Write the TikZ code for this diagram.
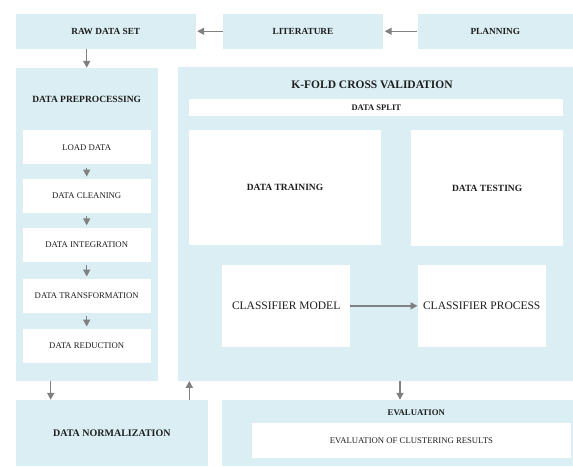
\documentclass[tikz,border=0pt]{standalone}
\usepackage{fontspec}
\setmainfont{Liberation Serif}
\usetikzlibrary{arrows.meta}
\definecolor{lblue}{HTML}{DAEEF3}
\definecolor{agray}{HTML}{808080}
\definecolor{tdark}{HTML}{1E1E1E}
\tikzset{
  bluebox/.style={fill=lblue, draw=none, inner sep=0pt, text=tdark},
  whitebox/.style={fill=white, draw=none, inner sep=0pt, text=tdark},
  title/.style={inner sep=0pt, text=tdark, font=\bfseries\fontsize{#1}{#1}\selectfont},
  arr/.style={draw=agray, line width=1.5pt, -{Triangle[length=7pt,width=7pt]}, fill=agray},
}
\begin{document}
\begin{tikzpicture}[x=1pt,y=-1pt]
\useasboundingbox (0,0) rectangle (573,466);
% top row
\node[bluebox, minimum width=179.5pt, minimum height=34.5pt, font=\bfseries\fontsize{9.3}{10}\selectfont] (raw) at (105.75,31.25) {RAW DATA SET};
\node[bluebox, minimum width=160pt, minimum height=34.5pt, font=\bfseries\fontsize{9.3}{10}\selectfont] (lit) at (303,31.25) {LITERATURE};
\node[bluebox, minimum width=155.4pt, minimum height=34.5pt, font=\bfseries\fontsize{9.3}{10}\selectfont] (plan) at (495.3,31.25) {PLANNING};
% preprocessing
\node[bluebox, minimum width=141.5pt, minimum height=312.5pt] (prepro) at (86.75,224.25) {};
\node[title=9.5] (pretitle) at (86.7,99) {DATA PREPROCESSING};
\tikzset{step box/.style={whitebox, minimum width=128pt, minimum height=34.5pt, font=\fontsize{8.7}{10}\selectfont}}
\node[step box] (load) at (86.7,147.2) {LOAD DATA};
\node[step box] (clean) at (86.7,196) {DATA CLEANING};
\node[step box] (integ) at (86.7,244.8) {DATA INTEGRATION};
\node[step box] (trans) at (86.7,296) {DATA TRANSFORMATION};
\node[step box] (reduc) at (86.7,346) {DATA REDUCTION};
% k-fold
\node[bluebox, minimum width=394.7pt, minimum height=313.4pt] (kfold) at (375.65,224) {};
\node[title=11.5] (kftitle) at (372,85) {K-FOLD CROSS VALIDATION};
\node[whitebox, minimum width=374pt, minimum height=17pt, font=\bfseries\fontsize{8.5}{10}\selectfont] (split) at (376.3,107.5) {DATA SPLIT};
\node[whitebox, minimum width=191.4pt, minimum height=114.5pt, font=\bfseries\fontsize{9.5}{10}\selectfont] (train) at (285,187.5) {DATA TRAINING};
\node[whitebox, minimum width=152.3pt, minimum height=116pt, font=\bfseries\fontsize{9.5}{10}\selectfont] (test) at (487.15,188) {DATA TESTING};
\node[whitebox, minimum width=127.7pt, minimum height=81.7pt, font=\fontsize{11.5}{12}\selectfont] (cmodel) at (286.15,305.85) {CLASSIFIER MODEL};
\node[whitebox, minimum width=128pt, minimum height=81.7pt, font=\fontsize{11.5}{12}\selectfont] (cproc) at (481.7,305.85) {CLASSIFIER PROCESS};
% bottom row
\node[bluebox, minimum width=191.7pt, minimum height=66pt, font=\bfseries\fontsize{10}{11}\selectfont] (norm) at (111.85,433) {DATA NORMALIZATION};
\node[bluebox, minimum width=351.3pt, minimum height=66pt] (eval) at (397.35,433) {};
\node[title=8.7] (evtitle) at (416.3,413) {EVALUATION};
\node[whitebox, minimum width=319.3pt, minimum height=35pt, font=\fontsize{8.7}{10}\selectfont] (evres) at (411.35,440.8) {EVALUATION OF CLUSTERING RESULTS};
% helper x positions
\coordinate (xa) at (86.7,0);
\coordinate (xb) at (50.7,0);
\coordinate (xc) at (189.3,0);
\coordinate (xd) at (400,0);
% arrows
\draw[arr, shorten >=1.5pt] (lit.west) -- (raw.east);
\draw[arr, shorten >=1.5pt] (plan.west) -- (lit.east);
\draw[arr] (raw.south -| xa) -- (prepro.north -| xa);
\draw[arr, shorten <=3pt, shorten >=2pt] (load.south) -- (clean.north);
\draw[arr, shorten <=3pt, shorten >=2pt] (clean.south) -- (integ.north);
\draw[arr, shorten <=3pt, shorten >=2pt] (integ.south) -- (trans.north);
\draw[arr, shorten <=3pt, shorten >=2pt] (trans.south) -- (reduc.north);
\draw[arr] (cmodel.east) -- (cproc.west);
\draw[arr] (prepro.south -| xb) -- (norm.north -| xb);
\draw[arr] (norm.north -| xc) -- (kfold.south -| xc);
\draw[arr] (kfold.south -| xd) -- (eval.north -| xd);
\end{tikzpicture}
\end{document}
